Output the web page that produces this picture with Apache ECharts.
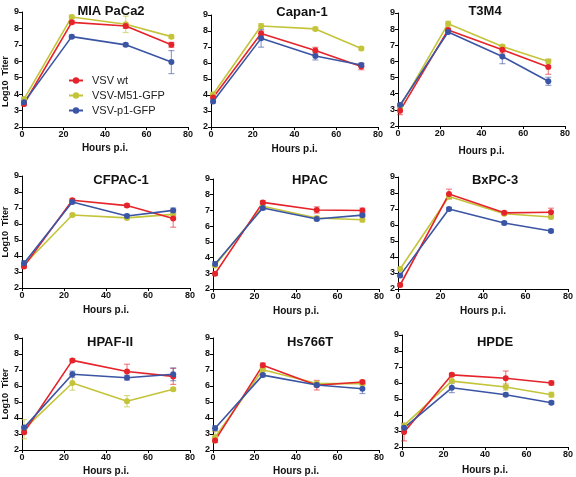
<!DOCTYPE html>
<html><head><meta charset="utf-8">
<script src="https://cdn.jsdelivr.net/npm/echarts@6/dist/echarts.min.js"></script>
<style>html,body{margin:0;padding:0;background:#fff}#c{width:576px;height:477px}</style>
</head><body><div id="c"></div>
<script>
const hours = [1, 24, 50, 72];
const panels = ['MIA PaCa2','Capan-1','T3M4','CFPAC-1','HPAC','BxPC-3','HPAF-II','Hs766T','HPDE'];
const seriesNames = ['VSV wt','VSV-M51-GFP','VSV-p1-GFP'];
const xTicks = [0, 20, 40, 60, 80];
const yTicks = [2, 3, 4, 5, 6, 7, 8, 9];

const wtMean = [
  [3.4, 8.37, 8.15, 7.0],
  [3.85, 7.85, 6.78, 5.78],
  [2.95, 7.95, 6.72, 5.65],
  [3.35, 7.48, 7.15, 6.35],
  [2.97, 7.51, 7.03, 7.0],
  [2.25, 7.94, 6.76, 6.8],
  [3.11, 7.6, 6.91, 6.6],
  [2.6, 7.29, 6.05, 6.25],
  [2.93, 6.51, 6.3, 6.0]
];
const wtErr = [
  [0.1, 0.1, 0.15, 0.15],
  [0.1, 0.15, 0.2, 0.2],
  [0.25, 0.1, 0.2, 0.45],
  [0.1, 0.1, 0.1, 0.55],
  [0.1, 0.1, 0.2, 0.15],
  [0.1, 0.3, 0.1, 0.25],
  [0.1, 0.1, 0.45, 0.5],
  [0.1, 0.15, 0.3, 0.1],
  [0.55, 0.1, 0.45, 0.12]
];
const m51Mean = [
  [3.7, 8.7, 8.25, 7.5],
  [4.05, 8.31, 8.13, 6.9],
  [3.2, 8.34, 6.93, 6.0],
  [3.45, 6.56, 6.38, 6.6],
  [3.5, 7.26, 6.52, 6.41],
  [3.25, 7.78, 6.7, 6.5],
  [3.3, 6.19, 5.05, 5.8],
  [2.8, 7.02, 6.15, 6.15],
  [3.35, 6.12, 5.75, 5.27]
];
const m51Err = [
  [0.1, 0.1, 0.5, 0.1],
  [0.1, 0.15, 0.1, 0.1],
  [0.1, 0.15, 0.1, 0.15],
  [0.1, 0.1, 0.1, 0.1],
  [0.1, 0.1, 0.1, 0.15],
  [0.1, 0.15, 0.1, 0.1],
  [0.6, 0.45, 0.35, 0.1],
  [0.35, 0.1, 0.1, 0.1],
  [0.1, 0.1, 0.2, 0.15]
];
const p1Mean = [
  [3.5, 7.5, 7.0, 5.95],
  [3.6, 7.54, 6.44, 5.88],
  [3.3, 7.82, 6.31, 4.77],
  [3.55, 7.38, 6.5, 6.85],
  [3.59, 7.15, 6.45, 6.7],
  [2.85, 7.0, 6.12, 5.63],
  [3.4, 6.73, 6.52, 6.73],
  [3.36, 6.68, 6.06, 5.83],
  [3.2, 5.7, 5.27, 4.77]
];
const p1Err = [
  [0.1, 0.1, 0.1, 0.7],
  [0.1, 0.55, 0.25, 0.1],
  [0.1, 0.1, 0.45, 0.25],
  [0.15, 0.1, 0.1, 0.15],
  [0.15, 0.1, 0.1, 0.1],
  [0.1, 0.1, 0.1, 0.1],
  [0.1, 0.2, 0.15, 0.4],
  [0.15, 0.1, 0.1, 0.3],
  [0.1, 0.3, 0.1, 0.1]
];

// layout (pixel boxes per panel)
const boxes = [
  {l:21, r:188, t:12, b:127, tx:106, ty:0, ng:16},
  {l:211, r:378, t:15, b:127, tx:297, ty:1, ng:17},
  {l:398, r:565, t:13, b:126, tx:480, ty:0, ng:20},
  {l:21, r:190, t:176, b:288, tx:116, ty:169, ng:17},
  {l:213, r:379, t:179, b:289, tx:305, ty:169, ng:17},
  {l:398, r:568, t:177, b:289, tx:490, ty:169, ng:17},
  {l:22, r:190, t:338, b:451, tx:105, ty:331, ng:16},
  {l:213, r:379, t:338, b:450, tx:305, ty:331, ng:16},
  {l:402, r:571, t:335, b:447, tx:490, ty:331, ng:18}
];
const colors = ['#e5232a', '#c3c43a', '#3b55a5'];
const errColors = ['rgba(229,35,42,0.55)', 'rgba(195,196,58,0.6)', 'rgba(59,85,165,0.55)'];
const FONT = 'Arial, "Liberation Sans", sans-serif';

const means = [wtMean, m51Mean, p1Mean];
const errs = [wtErr, m51Err, p1Err];
const drawOrder = [1, 0, 2];

const option = {
  animation: false,
  backgroundColor: '#fff',
  title: [], grid: [], xAxis: [], yAxis: [], series: [],
  legend: {
    data: seriesNames,
    orient: 'vertical',
    left: 63, top: 70,
    itemWidth: 14, itemHeight: 8, itemGap: 4,
    textStyle: {fontFamily: FONT, fontSize: 11, color: '#222', padding: [0,0,0,4]}
  }
};

panels.forEach((name, i) => {
  const b = boxes[i];
  option.title.push({
    text: name, left: b.tx, top: b.ty, textAlign: 'center',
    textStyle: {fontFamily: FONT, fontSize: 13, fontWeight: 'bold', color: '#111'}
  });
  option.grid.push({left: b.l, top: b.t, width: b.r - b.l, height: b.b - b.t});
  option.xAxis.push({
    gridIndex: i, type: 'value', min: 0, max: 80, interval: 20,
    name: 'Hours p.i.', nameLocation: 'middle', nameGap: b.ng,
    nameTextStyle: {fontFamily: FONT, fontSize: 10, fontWeight: 'bold', color: '#111'},
    axisLine: {show: true, lineStyle: {color: '#000', width: 1}},
    axisTick: {show: true, length: 3, lineStyle: {color: '#000'}},
    axisLabel: {fontFamily: FONT, fontSize: 9, fontWeight: 'bold', color: '#111', margin: 3},
    splitLine: {show: false}
  });
  option.yAxis.push({
    gridIndex: i, type: 'value', min: 2, max: 9, interval: 1,
    name: (i % 3 === 0) ? 'Log10  Titer' : '', nameLocation: 'middle', nameGap: 11,
    nameTextStyle: {fontFamily: FONT, fontSize: 9, fontWeight: 'bold', color: '#111',
      padding: i === 0 ? [0, 0, 0, -24] : 0},
    axisLine: {show: true, lineStyle: {color: '#000', width: 1}},
    axisTick: {show: true, length: 3, lineStyle: {color: '#000'}},
    axisLabel: {fontFamily: FONT, fontSize: 9, fontWeight: 'bold', color: '#111', margin: 3},
    splitLine: {show: false}
  });
  drawOrder.forEach(s => {
    const pts = hours.map((h, k) => [h, means[s][i][k], errs[s][i][k]]);
    option.series.push({
      type: 'custom', name: 'err' + s, xAxisIndex: i, yAxisIndex: i,
      data: pts, silent: true, z: 1,
      renderItem: (params, api) => {
        const x = api.value(0), y = api.value(1), e = api.value(2);
        const p1 = api.coord([x, y + e]), p2 = api.coord([x, y - e]);
        const st = {stroke: errColors[s], lineWidth: 1.2};
        return {type: 'group', children: [
          {type: 'line', shape: {x1: p1[0], y1: p1[1], x2: p2[0], y2: p2[1]}, style: st},
          {type: 'line', shape: {x1: p1[0]-3, y1: p1[1], x2: p1[0]+3, y2: p1[1]}, style: st},
          {type: 'line', shape: {x1: p2[0]-3, y1: p2[1], x2: p2[0]+3, y2: p2[1]}, style: st}
        ]};
      }
    });
    option.series.push({
      type: 'line', name: seriesNames[s], xAxisIndex: i, yAxisIndex: i,
      data: pts.map(p => [p[0], p[1]]), z: 2,
      symbol: 'circle', symbolSize: 6,
      lineStyle: {color: colors[s], width: 1.6},
      itemStyle: {color: colors[s]}
    });
  });
});

const chart = echarts.init(document.getElementById('c'), null, {renderer: 'canvas'});
chart.setOption(option);
</script></body></html>
